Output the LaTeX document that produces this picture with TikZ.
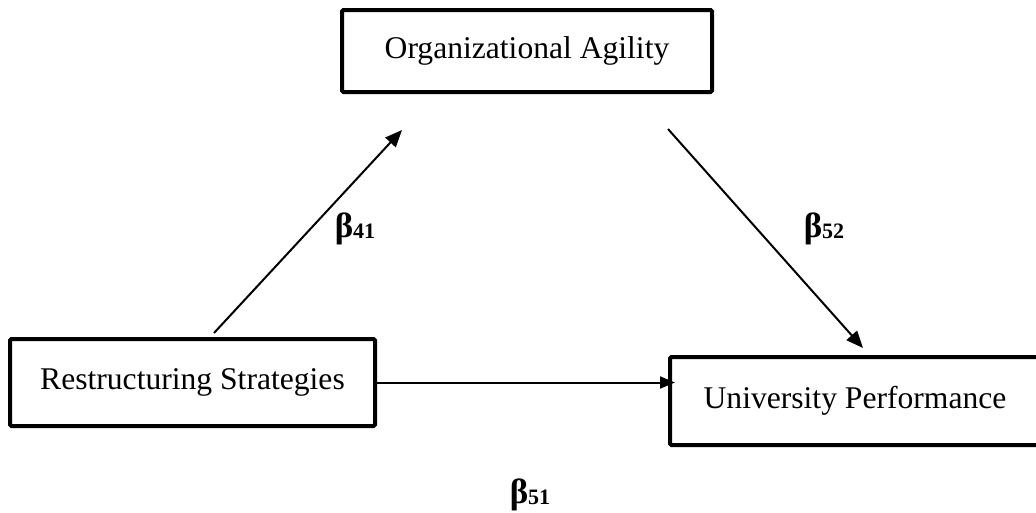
\documentclass[tikz,border=0pt]{standalone}
\usepackage{fontspec}
\setmainfont{Liberation Serif}
\usetikzlibrary{arrows.meta,calc}
\newcommand{\betalab}[1]{{\fontsize{35}{36}\selectfont β}{\fontsize{22}{22}\selectfont\raisebox{-1pt}{#1}}}
\begin{document}
\begin{tikzpicture}[x=1pt,y=-1pt,
  box/.style={draw, line width=4pt, rounded corners=1.5pt, inner sep=0pt,
    font=\fontsize{31.6}{36}\selectfont},
  arr/.style={line width=2pt, -{Triangle[length=17pt,width=14pt]}},
  harr/.style={line width=2pt, -{Triangle[length=15pt,width=12pt]}},
  beta/.style={font=\bfseries, inner sep=0pt, anchor=base}]
\useasboundingbox (0,0) rectangle (1036,512);
\clip (0,0) rectangle (1036,512);
\node[box, minimum width=370pt, minimum height=82pt] (oa) at (527,51) {\raisebox{-3pt}{Organizational Agility}};
\node[box, minimum width=365pt, minimum height=87pt] (rs) at (192.5,382.5) {\raisebox{-2pt}{Restructuring Strategies}\hspace{12pt}};
\node[box, minimum width=370pt, minimum height=88pt] (up) at (855,401) {\raisebox{-3pt}{University Performance}};
\coordinate (t41) at (402,130);
\coordinate (s52) at (668,129);
\draw[arr] ($(rs.north)+(21.5,-4)$) -- (t41);
\draw[arr] (s52) -- ($(up.north)+(8,-7)$);
\draw[harr] (rs.east) -- ($(rs.east -| up.west)+(7,0)$);
\node[beta] (b41) at (355,237) {\betalab{41}};
\node[beta] (b52) at (824,237) {\betalab{52}};
\node[beta] (b51) at (530,503) {\betalab{51}};
\end{tikzpicture}
\end{document}
